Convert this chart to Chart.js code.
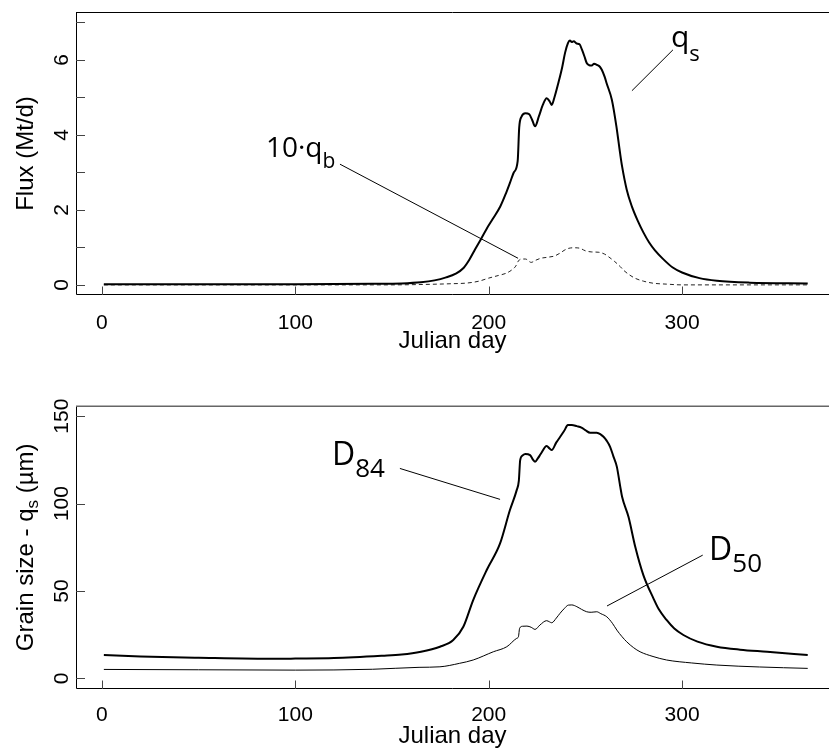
<!DOCTYPE html>
<html><head><meta charset="utf-8">
<script src="https://cdn.jsdelivr.net/npm/chart.js@4/dist/chart.umd.min.js"></script>
<style>
html,body{margin:0;padding:0;background:#fff;width:829px;height:751px;overflow:hidden;}
canvas{position:absolute;left:0;}
#c1{top:0}
#c2{top:375px}
</style></head><body>
<canvas id="c1" width="829" height="375"></canvas>
<canvas id="c2" width="829" height="376"></canvas>
<script>
// ---------- data ----------
const qsDays   = [1,50,100,140,155,165,172,178,183,187,190,193,196,199,202,206,209,211,213,215,215.8,217,219,221,222.5,224,226,228,230,231.5,232.6,234,236,238,239.5,241,242,243,244,245.5,247,248.2,249.5,250.7,252,253.3,254.5,256,257.5,258.5,260,261,263.7,266,268,269,271.4,274,277,280,283,286,290,295,300,309,318,335,365];
const qsValues = [0.02,0.02,0.02,0.03,0.04,0.07,0.12,0.2,0.3,0.45,0.67,0.95,1.22,1.5,1.75,2.09,2.45,2.72,3.0,3.3,4.2,4.49,4.58,4.55,4.4,4.23,4.5,4.8,4.98,4.9,4.8,5.0,5.38,5.8,6.19,6.45,6.52,6.48,6.5,6.44,6.42,6.28,6.1,5.92,5.86,5.85,5.9,5.87,5.82,5.74,5.55,5.38,4.94,4.25,3.5,3.16,2.54,2.1,1.72,1.4,1.13,0.92,0.7,0.47,0.33,0.18,0.11,0.06,0.04];

const qbDays   = [1,150,165,180,189,195,200,205,209,212,214,215.4,217,219,222,224,227,231,234,237,239,241,244,247,250,253,257,260,262,265,268,270,273,276,280,285,292,300,365];
const qbValues = [0,0,0.01,0.03,0.05,0.1,0.18,0.25,0.31,0.4,0.5,0.64,0.69,0.69,0.6,0.65,0.71,0.74,0.77,0.85,0.92,0.97,0.99,0.98,0.91,0.88,0.87,0.82,0.75,0.63,0.49,0.38,0.26,0.17,0.1,0.045,0.02,0,0];

const d84Days   = [1,20,50,90,100,120,145,155,165,174.8,181.7,186.9,192,199,205.9,211,214.5,215.6,216.3,217.5,219,221.4,223,224,225.5,227,230,231.5,232.6,235,237,239,241,243,245.6,248,250,252.5,255.9,258,259.4,261,262.8,264.5,266.3,268,269,272.3,275.8,280,285.2,288,292,296,300.7,308,318,330,344,365];
const d84Values = [13.3,12.5,11.8,11.2,11.3,11.6,12.9,13.6,15.2,18.1,21.9,29.5,44.8,62,77.2,96.3,107.7,113,124.9,127.5,128.3,127.7,125,123.9,126,128.5,132.9,131.5,130.6,135,138.2,141.5,144.9,145,144.3,143.5,142,140.5,140.5,139.5,138.2,136,132.5,127,121,110,103.9,92.4,75.3,59.1,45.8,39.5,33.4,28.5,24.8,21,18.1,16.4,15.2,13.3];

const d50Days   = [1,50,100,140,164,174.8,185,192,202.4,209.4,214.5,215.4,216,217.5,219.8,222,224,226.5,230,231.5,232.6,235,236.9,239,241.2,243,245.6,248,250.7,253,255.9,258,261.1,264,266.3,269,271.4,275,278.3,285,292,305,318,340,365];
const d50Values = [5.1,4.9,4.7,5.2,6.3,6.6,8.6,10.5,15.2,18.1,22.9,23.8,28.6,29.8,29.9,29.2,28,30.5,33,32.3,31.8,34.5,37.2,39.8,41.9,42,41,39.5,38.1,37.8,38.1,37,35.2,31.5,27.6,23.8,20.9,17.5,15.2,12.5,10.5,8.8,7.6,6.5,5.7];

const dayTicks = [0,100,200,300];
const dayTickLabels = ['0','100','200','300'];
const fluxTicks = [0,1,2,3,4,5,6,7];
const fluxTickLabels = ['0','','2','','4','','6',''];
const grainTicks = [0,50,100,150];
const grainTickLabels = ['0','50','100','150'];

// ---------- helpers ----------
const pts = (xs, ys) => xs.map((x, i) => ({x: x, y: ys[i]}));
const AXIS_FONT = '"Liberation Sans", Arial, Helvetica, sans-serif';
const NOTE_FONT = '"Open Sans", "Noto Sans", sans-serif';
Chart.defaults.font.family = AXIS_FONT;
Chart.defaults.color = '#000';

function drawRuns(ctx, runs, family, x, y, center) {
  let w = 0;
  runs.forEach(r => { ctx.font = r.s + 'px ' + family; w += ctx.measureText(r.t).width; });
  let cx = center ? x - w / 2 : x;
  runs.forEach(r => {
    ctx.font = r.s + 'px ' + family;
    ctx.fillText(r.t, cx, y + (r.dy || 0));
    cx += ctx.measureText(r.t).width;
  });
}

const rFrame = {
  id: 'rframe',
  afterDraw(chart, args, o) {
    const ctx = chart.ctx, a = chart.chartArea;
    const xs = chart.scales.x, ys = chart.scales.y;
    ctx.save();
    // frame (top, left, bottom)
    ctx.lineWidth = 1; ctx.strokeStyle = '#000';
    ctx.beginPath();
    ctx.moveTo(a.left + 0.5, a.top + 0.5);
    ctx.lineTo(a.left + 0.5, a.bottom - 0.5);
    ctx.lineTo(a.right, a.bottom - 0.5);
    ctx.stroke();
    ctx.lineWidth = o.topWidth; ctx.strokeStyle = o.topColor;
    ctx.beginPath();
    ctx.moveTo(a.left, a.top + 0.5); ctx.lineTo(a.right, a.top + 0.5);
    ctx.stroke();
    // inward tick marks
    ctx.lineWidth = 1; ctx.strokeStyle = '#444';
    ctx.beginPath();
    xs.ticks.forEach(t => {
      const px = Math.round(xs.getPixelForValue(t.value)) + 0.5;
      ctx.moveTo(px, a.bottom); ctx.lineTo(px, a.bottom - 8.5);
    });
    ys.ticks.forEach(t => {
      const py = Math.round(ys.getPixelForValue(t.value)) + 0.5;
      ctx.moveTo(a.left, py); ctx.lineTo(a.left + 9, py);
    });
    ctx.stroke();
    // rotated y tick labels
    ctx.fillStyle = '#000';
    ctx.textAlign = 'center'; ctx.textBaseline = 'alphabetic';
    ctx.font = '21px ' + AXIS_FONT;
    o.yTicks.forEach((v, i) => {
      const lab = o.yLabels[i];
      if (!lab) return;
      ctx.save();
      ctx.translate(68, ys.getPixelForValue(v));
      ctx.rotate(-Math.PI / 2);
      ctx.fillText(lab, 0, 0);
      ctx.restore();
    });
    // y title
    ctx.save();
    ctx.translate(33, (a.top + a.bottom) / 2);
    ctx.rotate(-Math.PI / 2);
    ctx.textAlign = 'left';
    drawRuns(ctx, o.yTitle, AXIS_FONT, 0, 0, true);
    ctx.restore();
    // annotations
    ctx.textAlign = 'left'; ctx.textBaseline = 'alphabetic';
    ctx.lineWidth = 1; ctx.strokeStyle = '#000';
    o.notes.forEach(n => {
      ctx.beginPath();
      ctx.moveTo(xs.getPixelForValue(n.line[0][0]), ys.getPixelForValue(n.line[0][1]));
      ctx.lineTo(xs.getPixelForValue(n.line[1][0]), ys.getPixelForValue(n.line[1][1]));
      ctx.stroke();
      drawRuns(ctx, n.parts, NOTE_FONT, xs.getPixelForValue(n.at[0]), ys.getPixelForValue(n.at[1]), false);
    });
    ctx.restore();
  }
};

function makeChart(id, cfg) {
  return new Chart(document.getElementById(id), {
    type: 'line',
    data: { datasets: cfg.datasets },
    options: {
      responsive: false, animation: false, devicePixelRatio: 1,
      layout: { padding: { left: 0, right: 0, top: cfg.padTop, bottom: 0 } },
      plugins: { legend: { display: false }, tooltip: { enabled: false }, rframe: cfg.frame },
      elements: { point: { radius: 0 }, line: { cubicInterpolationMode: 'monotone' } },
      scales: {
        x: {
          type: 'linear', min: -13.4, max: 376,
          afterBuildTicks: s => { s.ticks = dayTicks.map(v => ({ value: v })); },
          afterFit: s => { s.height = cfg.xHeight; },
          grid: { display: false }, border: { display: false },
          ticks: { padding: cfg.xTickPad, font: { size: 21 }, color: '#000', maxRotation: 0,
                   callback: (v, i) => dayTickLabels[i] },
          title: { display: true, text: 'Julian day', font: { size: 24 }, color: '#000',
                   padding: { top: 0, bottom: cfg.xTitlePad } }
        },
        y: {
          type: 'linear', min: cfg.yMin, max: cfg.yMax,
          afterBuildTicks: s => { s.ticks = cfg.yTicks.map(v => ({ value: v })); },
          afterFit: s => { s.width = 76; },
          grid: { display: false }, border: { display: false },
          ticks: { display: false },
          title: { display: false }
        }
      }
    },
    plugins: [rFrame]
  });
}

makeChart('c1', {
  padTop: 12, xHeight: 80, xTickPad: 8, xTitlePad: 19,
  yMin: -0.27, yMax: 7.28, yTicks: fluxTicks,
  datasets: [
    { data: pts(qsDays, qsValues), borderColor: '#000', borderWidth: 2, fill: false },
    { data: pts(qbDays, qbValues), borderColor: '#222', borderWidth: 1, borderDash: [4, 3], fill: false }
  ],
  frame: {
    topColor: '#000', topWidth: 1,
    yTicks: fluxTicks, yLabels: fluxTickLabels,
    yTitle: [{ t: 'Flux (Mt/d)', s: 24 }],
    notes: [
      { parts: [{ t: 'q', s: 30 }, { t: 's', s: 22, dy: 14 }], at: [294.3, 6.35], line: [[274.1, 5.18], [295.3, 6.27]] },
      { parts: [{ t: '10·q', s: 28 }, { t: 'b', s: 21, dy: 11.6 }], at: [84.8, 3.42], line: [[123.1, 3.22], [215.2, 0.71]] }
    ]
  }
});

makeChart('c2', {
  padTop: 30.7, xHeight: 62, xTickPad: 6, xTitlePad: 0,
  yMin: -6.1, yMax: 156, yTicks: grainTicks,
  datasets: [
    { data: pts(d84Days, d84Values), borderColor: '#000', borderWidth: 2, fill: false },
    { data: pts(d50Days, d50Values), borderColor: '#000', borderWidth: 1, fill: false }
  ],
  frame: {
    topColor: '#666', topWidth: 1.6,
    yTicks: grainTicks, yLabels: grainTickLabels,
    yTitle: [{ t: 'Grain size - q', s: 24 }, { t: 's', s: 17, dy: 5 }, { t: ' (µm)', s: 24 }],
    notes: [
      { parts: [{ t: 'D', s: 32 }, { t: '84', s: 26, dy: 12 }], at: [119.0, 122.0], line: [[154.1, 120.1], [205.9, 102.4]] },
      { parts: [{ t: 'D', s: 32 }, { t: '50', s: 26, dy: 12 }], at: [314.0, 67.7], line: [[310.7, 70.5], [261.2, 41.4]] }
    ]
  }
});
</script>
</body></html>
